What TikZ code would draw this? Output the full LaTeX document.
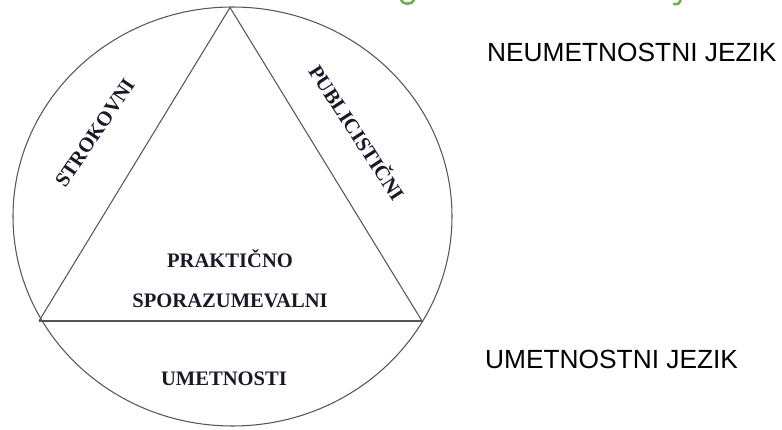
\documentclass[tikz,border=0pt]{standalone}
\usepackage{fontspec}
\setmainfont{Liberation Serif}
\newfontfamily\labelsans{Liberation Sans}
\definecolor{linegray}{RGB}{85,85,85}
\definecolor{inktext}{RGB}{25,25,40}
\definecolor{titlegreen}{RGB}{106,176,76}
\tikzset{
  outline/.style={draw=linegray, line width=1.05pt},
  zone/.style={inner sep=0pt, text=inktext, font=\bfseries\fontsize{20.6}{24}\selectfont},
  side/.style={inner sep=0pt, text=black, font=\labelsans\fontsize{26.3}{30}\selectfont, anchor=base west},
  fragment/.style={draw=titlegreen, line width=2.6pt, line cap=round}
}
\begin{document}
\begin{tikzpicture}[x=1pt,y=-1pt]
\useasboundingbox (0,0) rectangle (782,430);
% circle (ellipse)
\draw[outline] (232.5,216.5) ellipse [x radius=219.5pt, y radius=209.5pt];
% triangle vertices
\coordinate (apex) at (230,7.5);
\coordinate (bl) at (39,321);
\coordinate (br) at (422,321);
\draw[outline] (bl) -- (apex) -- (br);
\draw[outline, line width=1.4pt] (bl) -- (br);
% labels inside
\node[zone, rotate=56] (strok) at (95,133) {STROKOVNI};
\node[zone, rotate=-57] (publ) at (358,132) {PUBLICISTIČNI};
\node[zone, anchor=base] (prak) at (230,268) {PRAKTIČNO};
\node[zone, anchor=base] (spor) at (230,308) {SPORAZUMEVALNI};
\node[zone, anchor=base] (umet) at (224,385) {UMETNOSTI};
% labels right
\node[side] (neum) at (487,62) {NEUMETNOSTNI JEZIK};
\node[side] (umj) at (485,368) {UMETNOSTNI JEZIK};
% clipped green title fragments
\draw[fragment] (401,0) .. controls (403,5) and (412,5) .. (414,0);
\draw[fragment] (680.5,-1) .. controls (680.5,4) and (677,4.5) .. (674,4);
\end{tikzpicture}
\end{document}
